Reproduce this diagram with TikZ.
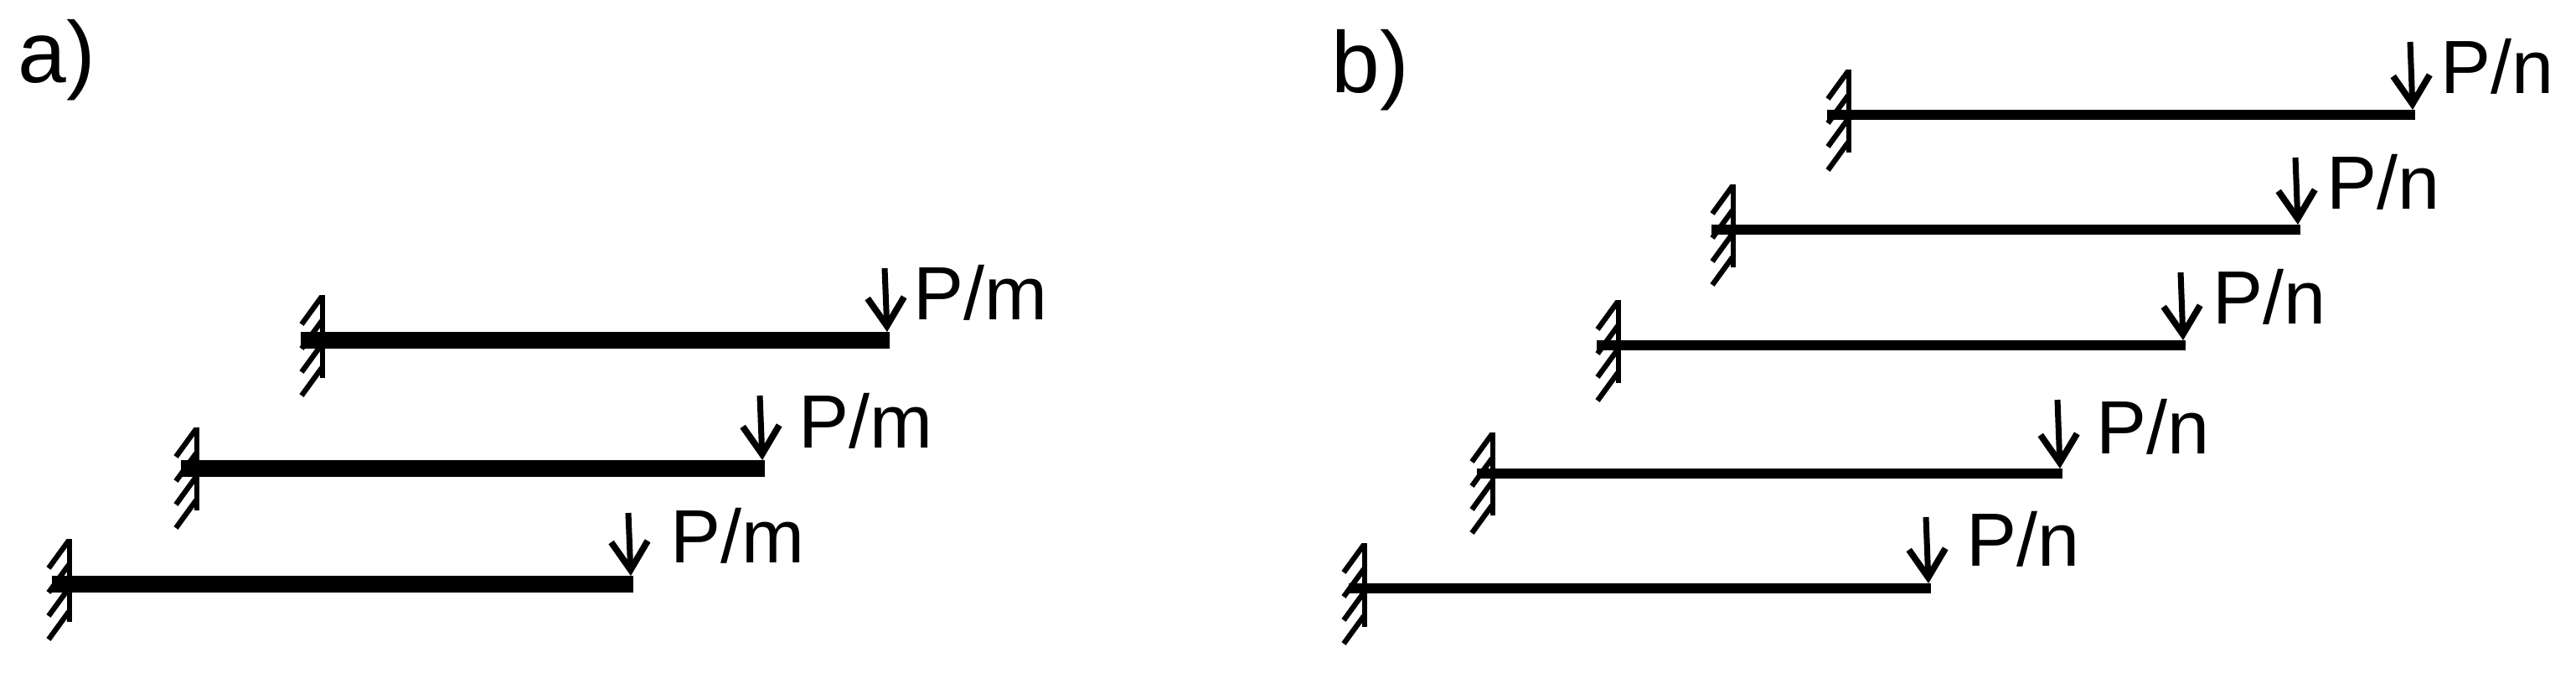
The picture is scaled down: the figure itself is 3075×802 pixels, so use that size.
\documentclass[tikz,border=0pt]{standalone}
\usepackage{fontspec}
\setmainfont{Liberation Sans}
\usetikzlibrary{arrows.meta}
\tikzset{
 wallline/.style={line width=1.9pt},
 hatchline/.style={line width=1.8pt},
 thickbeam/.style={line width=5.7pt},
 thinbeam/.style={line width=3.6pt},
 loadarrow/.style={line width=2pt,-{Straight Barb[length=9.6pt,width=12.4pt,line width=2.2pt]}},
 loadlabel/.style={anchor=base west,inner sep=0pt,font=\fontsize{25.6pt}{25.6pt}\selectfont},
 partlabel/.style={anchor=base west,inner sep=0pt,font=\fontsize{29.5pt}{29.5pt}\selectfont}
}
\begin{document}
\begin{tikzpicture}[x=0.01cm,y=-0.01cm]
 \useasboundingbox (0,0) rectangle (3075,802);
 % a)
 \node[partlabel] (alabel) at (21,98) {a)};
 \coordinate (a1root) at (359,406); \coordinate (a1end) at (1062,406);
 \coordinate (a1load) at (1056,320); \coordinate (a1tip) at (1059,396);
 \draw[wallline](385,352)--(385,451);
 \draw[hatchline](384,354)--++(-24,33) (384,383)--++(-24,33) (384,411)--++(-24,33) (384,439)--++(-24,33);
 \draw[thickbeam](a1root)--(a1end);
 \draw[loadarrow](a1load)--(a1tip);
 \node[loadlabel] (a1label) at (1090,381) {P/m};
 \coordinate (a2root) at (216,559); \coordinate (a2end) at (913,559);
 \coordinate (a2load) at (907,472); \coordinate (a2tip) at (910,549);
 \draw[wallline](235,510)--(235,609);
 \draw[hatchline](234,512)--++(-24,33) (234,541)--++(-24,33) (234,569)--++(-24,33) (234,597)--++(-24,33);
 \draw[thickbeam](a2root)--(a2end);
 \draw[loadarrow](a2load)--(a2tip);
 \node[loadlabel] (a2label) at (953,534) {P/m};
 \coordinate (a3root) at (62,697); \coordinate (a3end) at (756,697);
 \coordinate (a3load) at (750,612); \coordinate (a3tip) at (753,687);
 \draw[wallline](83,643)--(83,742);
 \draw[hatchline](82,645)--++(-24,33) (82,674)--++(-24,33) (82,702)--++(-24,33) (82,730)--++(-24,33);
 \draw[thickbeam](a3root)--(a3end);
 \draw[loadarrow](a3load)--(a3tip);
 \node[loadlabel] (a3label) at (800,671) {P/m};
 % b)
 \node[partlabel] (blabel) at (1589,110) {b)};
 \coordinate (b1root) at (2181,137); \coordinate (b1end) at (2883,137);
 \coordinate (b1load) at (2877,50); \coordinate (b1tip) at (2880,131);
 \draw[wallline](2207,83)--(2207,182);
 \draw[hatchline](2206,85)--++(-24,33) (2206,114)--++(-24,33) (2206,142)--++(-24,33) (2206,170)--++(-24,33);
 \draw[thinbeam](b1root)--(b1end);
 \draw[loadarrow](b1load)--(b1tip);
 \node[loadlabel] (b1label) at (2913,111) {P/n};
 \coordinate (b2root) at (2043,274); \coordinate (b2end) at (2746,274);
 \coordinate (b2load) at (2740,188); \coordinate (b2tip) at (2743,268);
 \draw[wallline](2069,220)--(2069,319);
 \draw[hatchline](2068,222)--++(-24,33) (2068,251)--++(-24,33) (2068,279)--++(-24,33) (2068,307)--++(-24,33);
 \draw[thinbeam](b2root)--(b2end);
 \draw[loadarrow](b2load)--(b2tip);
 \node[loadlabel] (b2label) at (2777,249) {P/n};
 \coordinate (b3root) at (1906,412); \coordinate (b3end) at (2609,412);
 \coordinate (b3load) at (2603,325); \coordinate (b3tip) at (2606,406);
 \draw[wallline](1932,358)--(1932,457);
 \draw[hatchline](1931,360)--++(-24,33) (1931,389)--++(-24,33) (1931,417)--++(-24,33) (1931,445)--++(-24,33);
 \draw[thinbeam](b3root)--(b3end);
 \draw[loadarrow](b3load)--(b3tip);
 \node[loadlabel] (b3label) at (2641,386) {P/n};
 \coordinate (b4root) at (1763,565); \coordinate (b4end) at (2462,565);
 \coordinate (b4load) at (2456,477); \coordinate (b4tip) at (2459,559);
 \draw[wallline](1782,516)--(1782,615);
 \draw[hatchline](1781,518)--++(-24,33) (1781,547)--++(-24,33) (1781,575)--++(-24,33) (1781,603)--++(-24,33);
 \draw[thinbeam](b4root)--(b4end);
 \draw[loadarrow](b4load)--(b4tip);
 \node[loadlabel] (b4label) at (2502,541) {P/n};
 \coordinate (b5root) at (1610,702); \coordinate (b5end) at (2305,702);
 \coordinate (b5load) at (2299,617); \coordinate (b5tip) at (2302,696);
 \draw[wallline](1629,648)--(1629,748);
 \draw[hatchline](1628,650)--++(-24,33) (1628,679)--++(-24,33) (1628,707)--++(-24,33) (1628,735)--++(-24,33);
 \draw[thinbeam](b5root)--(b5end);
 \draw[loadarrow](b5load)--(b5tip);
 \node[loadlabel] (b5label) at (2347,675) {P/n};
\end{tikzpicture}
\end{document}
